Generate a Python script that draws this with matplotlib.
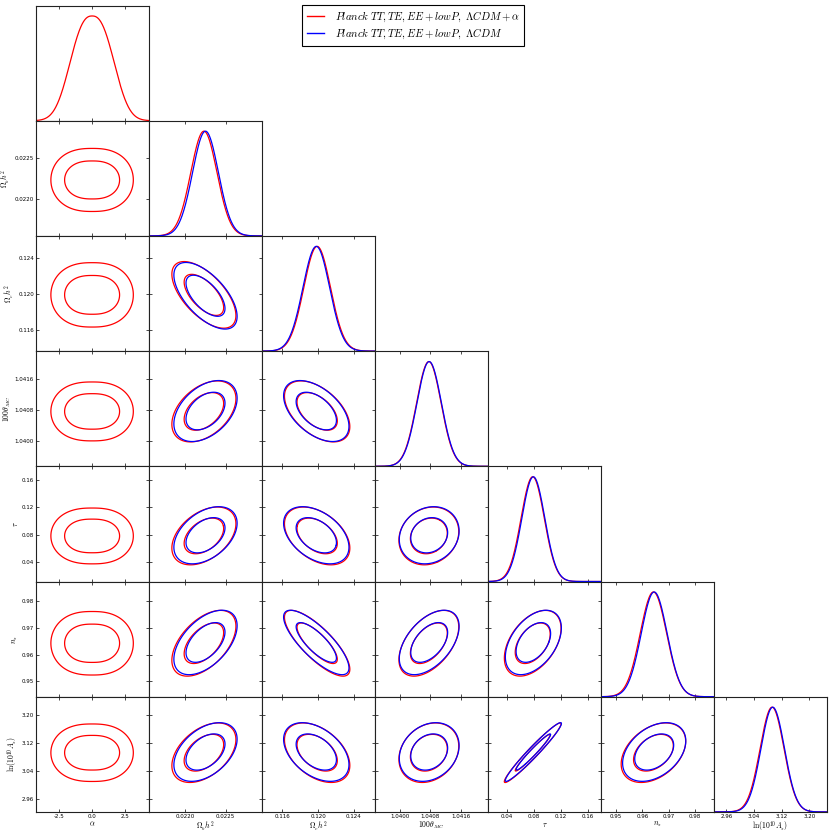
import numpy as np
import matplotlib
matplotlib.use("Agg")
import matplotlib.pyplot as plt
from matplotlib.lines import Line2D

plt.rcParams['mathtext.fontset'] = 'cm'

# parameter labels, axis ranges and ticks (alpha first)
names = [r'$\alpha$', r'$\Omega_b h^2$', r'$\Omega_c h^2$', r'$100\theta_{MC}$',
         r'$\tau$', r'$n_s$', r'${\rm ln}(10^{10} A_s)$']
lims = [(-4.2, 4.26), (0.02155, 0.02295), (0.1137, 0.1264), (1.03935, 1.04231),
        (0.0116, 0.1795), (0.9443, 0.9872), (2.924, 3.251)]
ticks = [[-2.5, 0.0, 2.5], [0.0220, 0.0225], [0.116, 0.120, 0.124],
         [1.0400, 1.0408, 1.0416], [0.04, 0.08, 0.12, 0.16],
         [0.95, 0.96, 0.97, 0.98], [2.96, 3.04, 3.12, 3.20]]
tick_fmt = ['%.1f', '%.4f', '%.3f', '%.4f', '%.2f', '%.2f', '%.2f']

# LCDM+alpha (red): means / widths, alpha has a flat-topped posterior
mean_red = [0.0, 0.02223, 0.1199, 1.04076, 0.078, 0.9642, 3.092]
sig_red = [1.55, 0.000162, 0.00150, 0.00032, 0.0172, 0.0050, 0.0345]
alpha_shape = 2.5
# LCDM (blue)
mean_blue = [0.02225, 0.1198, 1.04077, 0.079, 0.9645, 3.094]
sig_blue = [0.00016, 0.0015, 0.00032, 0.017, 0.0049, 0.034]
corr = np.array([
    [1.00, -0.62, 0.42, 0.42, 0.52, 0.44],
    [-0.62, 1.00, -0.50, -0.42, -0.79, -0.43],
    [0.42, -0.50, 1.00, 0.15, 0.50, 0.22],
    [0.42, -0.42, 0.15, 1.00, 0.45, 0.97],
    [0.52, -0.79, 0.50, 0.45, 1.00, 0.38],
    [0.44, -0.43, 0.22, 0.97, 0.38, 1.00],
])

W, H = 830, 834
left0, pw = 36, 113.0
top0, ph = 5.5, 115.2
n = 7


def logp1(x, i, red):
    if red:
        z = (x - mean_red[i]) / sig_red[i]
        if i == 0:
            return -0.5 * np.abs(z) ** alpha_shape
        return -0.5 * z ** 2
    z = (x - mean_blue[i - 1]) / sig_blue[i - 1]
    return -0.5 * z ** 2


def dens2(X, Y, i, j, red):
    # i -> x parameter, j -> y parameter
    if red:
        zx = (X - mean_red[i]) / sig_red[i]
        zy = (Y - mean_red[j]) / sig_red[j]
    else:
        zx = (X - mean_blue[i - 1]) / sig_blue[i - 1]
        zy = (Y - mean_blue[j - 1]) / sig_blue[j - 1]
    if i == 0:
        return np.exp(-0.5 * (np.abs(zx) ** alpha_shape + zy ** 2))
    rho = corr[i - 1, j - 1]
    q = (zx ** 2 - 2 * rho * zx * zy + zy ** 2) / (1 - rho ** 2)
    return np.exp(-0.5 * q)


def levels(P):
    flat = np.sort(P.ravel())[::-1]
    c = np.cumsum(flat)
    c /= c[-1]
    return [flat[np.searchsorted(c, 0.95)], flat[np.searchsorted(c, 0.68)]]


def grid(i, red):
    if red:
        m, s = mean_red[i], sig_red[i]
    else:
        m, s = mean_blue[i - 1], sig_blue[i - 1]
    k = 3.6 if i == 0 else 5.0
    return np.linspace(m - k * s, m + k * s, 300)


fig = plt.figure(figsize=(W / 100, H / 100), dpi=100)

for r in range(n):
    for c in range(r + 1):
        x0 = left0 + c * pw
        y0 = top0 + (r + 1) * ph
        ax = fig.add_axes([x0 / W, 1 - y0 / H, pw / W, ph / H])
        if r == c:
            xs = np.linspace(lims[c][0], lims[c][1], 400)
            ax.plot(xs, np.exp(logp1(xs, c, True)), color='red', lw=0.9)
            if c > 0:
                ax.plot(xs, np.exp(logp1(xs, c, False)), color='blue', lw=0.9)
            ax.set_ylim(0, 1.1)
            ax.set_yticks([])
        else:
            for red, col in [(True, 'red'), (False, 'blue')]:
                if not red and c == 0:
                    continue
                X, Y = np.meshgrid(grid(c, red), grid(r, red))
                P = dens2(X, Y, c, r, red)
                ax.contour(X, Y, P, levels=levels(P), colors=col, linewidths=0.9)
            ax.set_yticks(ticks[r])
            ax.set_ylim(lims[r])
        ax.set_xticks(ticks[c])
        ax.set_xlim(lims[c])
        ax.tick_params(direction='in', top=True, right=True, length=2.5,
                       width=0.5, labelsize=4, pad=1.5)
        ax.xaxis.set_major_formatter(matplotlib.ticker.FormatStrFormatter(tick_fmt[c]))
        if r != c:
            ax.yaxis.set_major_formatter(matplotlib.ticker.FormatStrFormatter(tick_fmt[r]))
        for sp in ax.spines.values():
            sp.set_linewidth(0.8)
            sp.set_color('#222222')
        if r == n - 1:
            ax.set_xlabel(names[c], fontsize=5.5, labelpad=0.5)
        else:
            ax.tick_params(labelbottom=False)
        if c == 0 and r > 0:
            ax.set_ylabel(names[r], fontsize=5.5, labelpad=1)
        else:
            ax.tick_params(labelleft=False)

handles = [Line2D([], [], color='red', lw=1), Line2D([], [], color='blue', lw=1)]
labels = [r'$Planck\ TT,TE,EE+lowP,\ \Lambda CDM+\alpha$',
          r'$Planck\ TT,TE,EE+lowP,\ \Lambda CDM$']
leg = fig.legend(handles, labels, loc='upper left', bbox_to_anchor=(302 / W, 1 - 5 / H),
                 borderaxespad=0, fontsize=7.7, handlelength=1.6, handletextpad=1.0,
                 borderpad=0.45, labelspacing=0.25,
                 fancybox=False, edgecolor='black', framealpha=1)
leg.get_frame().set_linewidth(0.8)

fig.savefig('out.png', dpi=100)
